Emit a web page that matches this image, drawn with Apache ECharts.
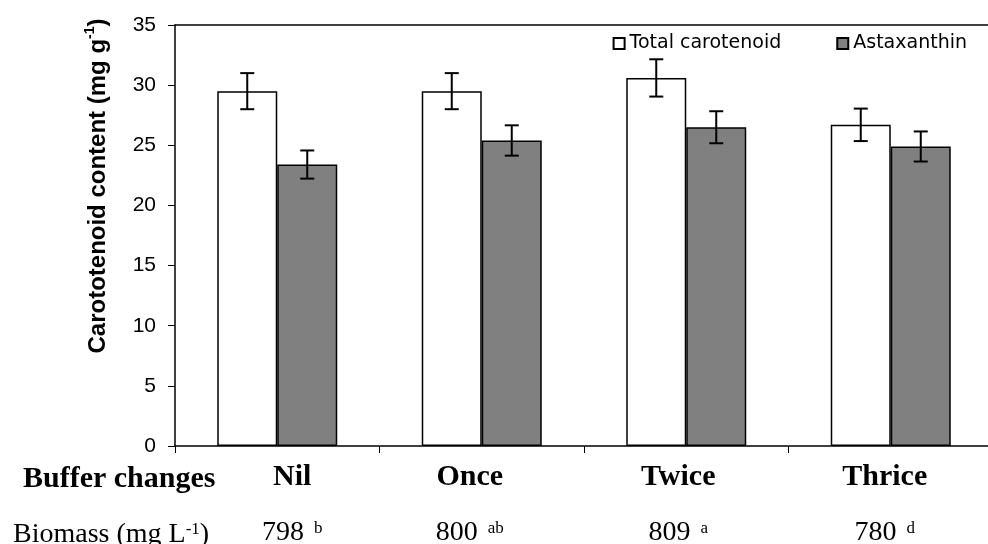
<!DOCTYPE html>
<html>
<head>
<meta charset="utf-8">
<script src="https://cdn.jsdelivr.net/npm/echarts@6/dist/echarts.min.js"></script>
<style>
  html, body { margin: 0; padding: 0; background: #fff; }
  #chart { width: 988px; height: 544px; }
</style>
</head>
<body>
<div id="chart"></div>
<script>
// Carotenoid content per buffer-change regime
const categories = ['Nil', 'Once', 'Twice', 'Thrice'];
const totalCarotenoid = [29.5, 29.5, 30.6, 26.7];
const totalCarotenoidSE = [1.5, 1.5, 1.55, 1.35];
const astaxanthin = [23.4, 25.4, 26.5, 24.9];
const astaxanthinSE = [1.17, 1.26, 1.33, 1.25];
const biomass = ['798', '800', '809', '780'];
const biomassGroups = ['b', 'ab', 'a', 'd'];
const yMin = 0, yMax = 35, yStep = 5;

const SERIF = '"Liberation Serif", "Times New Roman", serif';
const SANS = '"Liberation Sans", Arial, sans-serif';
const BAR_W = 60;
const CAP_HALF = 7;
// horizontal nudge (px) of each category caption block under the axis
const labelShift = [15, -12, -8, -6];

const rich = {
  cat: { fontFamily: SERIF, fontWeight: 'bold', fontSize: 30, lineHeight: 55, color: '#000' },
  num: { fontFamily: SERIF, fontSize: 28, lineHeight: 55, color: '#000' },
  gap: { width: 10, fontSize: 10 },
  sup: { fontFamily: SERIF, fontSize: 17, verticalAlign: 'top', padding: [15, 0, 0, 0], color: '#000' }
};
labelShift.forEach((s, i) => { rich['pad' + i] = { width: Math.abs(2 * s), fontSize: 10 }; });

function caption(value, i) {
  const pad = '{pad' + i + '| }';
  const L = labelShift[i] > 0 ? pad : '';
  const R = labelShift[i] < 0 ? pad : '';
  return L + '{cat|' + value + '}' + R + '\n' +
         L + '{num|' + biomass[i] + '}{gap| }{sup|' + biomassGroups[i] + '}' + R;
}

function errorBars(values, errs, side) {
  return {
    type: 'custom',
    z: 5,
    silent: true,
    data: values.map((v, i) => [i, v, errs[i]]),
    encode: { x: 0, y: 1 },
    renderItem: function (params, api) {
      const i = api.value(0), v = api.value(1), e = api.value(2);
      const hi = api.coord([i, v + e]);
      const lo = api.coord([i, v - e]);
      const x = hi[0] + side * BAR_W / 2;
      const st = { stroke: '#000', lineWidth: 2 };
      return {
        type: 'group',
        children: [
          { type: 'line', shape: { x1: x, y1: hi[1], x2: x, y2: lo[1] }, style: st },
          { type: 'line', shape: { x1: x - CAP_HALF, y1: hi[1], x2: x + CAP_HALF, y2: hi[1] }, style: st },
          { type: 'line', shape: { x1: x - CAP_HALF, y1: lo[1], x2: x + CAP_HALF, y2: lo[1] }, style: st }
        ]
      };
    }
  };
}

const chart = echarts.init(document.getElementById('chart'));
chart.setOption({
  animation: false,
  backgroundColor: '#fff',
  grid: { left: 175, right: -5, top: 25, bottom: 98, outerBoundsMode: 'none', containLabel: false },
  legend: {
    data: ['Total carotenoid', 'Astaxanthin'],
    right: 16, top: 29,
    itemWidth: 11, itemHeight: 11, itemGap: 55,
    icon: 'rect',
    textStyle: { fontFamily: '"DejaVu Sans", sans-serif', fontSize: 19, color: '#000' }
  },
  xAxis: [
    {
      type: 'category',
      data: categories,
      axisLine: { lineStyle: { color: '#000', width: 1.5 } },
      axisTick: { show: true, length: 7, lineStyle: { color: '#000', width: 1 } },
      axisLabel: { interval: 0, margin: 4, formatter: caption, rich: rich }
    },
    {
      type: 'category',
      data: categories,
      position: 'top',
      axisLine: { lineStyle: { color: '#000', width: 1.5 } },
      axisTick: { show: false },
      axisLabel: { show: false }
    }
  ],
  yAxis: {
    type: 'value',
    min: yMin, max: yMax, interval: yStep,
    splitLine: { show: false },
    axisLine: { show: true, lineStyle: { color: '#000', width: 1.5 } },
    axisTick: { show: true, length: 7, lineStyle: { color: '#000', width: 1 } },
    axisLabel: { margin: 19, fontFamily: SANS, fontSize: 21, color: '#000' }
  },
  series: [
    {
      name: 'Total carotenoid', type: 'bar', data: totalCarotenoid,
      barWidth: BAR_W, barGap: '0%',
      itemStyle: { color: '#fff', borderColor: '#000', borderWidth: 1.5 }
    },
    {
      name: 'Astaxanthin', type: 'bar', data: astaxanthin,
      barWidth: BAR_W, barGap: '0%',
      itemStyle: { color: '#808080', borderColor: '#000', borderWidth: 1.5 }
    },
    errorBars(totalCarotenoid, totalCarotenoidSE, -1),
    errorBars(astaxanthin, astaxanthinSE, 1)
  ],
  graphic: [
    {
      type: 'text', x: 98.5, y: 186, rotation: Math.PI / 2,
      style: {
        text: '{t|Carototenoid content (mg g}{s|-1}{t|)}',
        align: 'center', verticalAlign: 'middle',
        rich: {
          t: { fontFamily: SANS, fontWeight: 'bold', fontSize: 24, lineHeight: 30, fill: '#000' },
          s: { fontFamily: SANS, fontWeight: 'bold', fontSize: 14, lineHeight: 16, verticalAlign: 'top', fill: '#000' }
        }
      }
    },
    {
      type: 'text', x: 23, y: 479,
      style: {
        text: 'Buffer changes', align: 'left', verticalAlign: 'middle',
        font: 'bold 30px ' + SERIF, fill: '#000'
      }
    },
    {
      type: 'text', x: 13, y: 535,
      style: {
        text: '{n|Biomass (mg L}{s|-1}{n|)}',
        align: 'left', verticalAlign: 'middle',
        rich: {
          n: { fontFamily: SERIF, fontSize: 28, lineHeight: 40, fill: '#000' },
          s: { fontFamily: SERIF, fontSize: 17, verticalAlign: 'top', padding: [6, 0, 0, 0], fill: '#000' }
        }
      }
    }
  ]
});
</script>
</body>
</html>
